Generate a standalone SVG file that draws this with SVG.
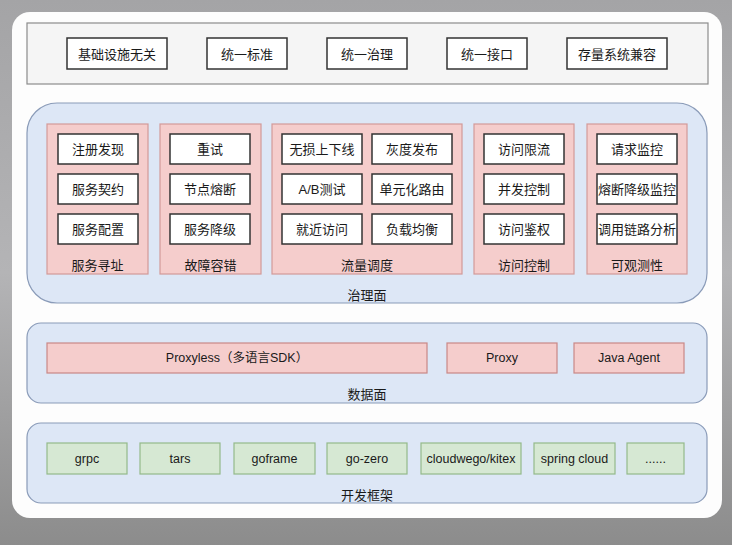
<svg xmlns="http://www.w3.org/2000/svg" width="732" height="545" viewBox="0 0 732 545">
<defs>
<linearGradient id="bg" x1="0" y1="0" x2="0" y2="1">
<stop offset="0" stop-color="#a4a4a6"/>
<stop offset="0.5" stop-color="#b4b4b6"/>
<stop offset="1" stop-color="#8c8c8c"/>
</linearGradient>
<style>
text{font-family:"Liberation Sans","Noto Sans CJK SC",sans-serif;font-size:13px;fill:#1a1a1a;text-anchor:middle;dominant-baseline:central}
.en{font-size:12.5px}
.wb{fill:#ffffff;stroke:#333333;stroke-width:1.5}
.panel{fill:#dde7f6;stroke:#8a9bb8;stroke-width:1.2}
.sec{fill:#f5cdcc;stroke:#d29a98;stroke-width:1.2}
.red{fill:#f5cdcc;stroke:#c98886;stroke-width:1.2}
.grn{fill:#d6e8d3;stroke:#93b98a;stroke-width:1.2}
</style>
</defs>
<rect x="0" y="0" width="732" height="545" fill="url(#bg)"/>
<rect x="12" y="12" width="710" height="506" rx="18" fill="#fdfdfd"/>

<g id="top">
<rect x="27" y="23" width="681" height="61" fill="#f5f5f5" stroke="#8c8c8c" stroke-width="1.2"/>
<g id="t1"><rect class="wb" x="67" y="38" width="100" height="31"/><text x="117" y="54">基础设施无关</text></g>
<g id="t2"><rect class="wb" x="207" y="38" width="80" height="31"/><text x="247" y="54">统一标准</text></g>
<g id="t3"><rect class="wb" x="327" y="38" width="80" height="31"/><text x="367" y="54">统一治理</text></g>
<g id="t4"><rect class="wb" x="447" y="38" width="80" height="31"/><text x="487" y="54">统一接口</text></g>
<g id="t5"><rect class="wb" x="567" y="38" width="100" height="31"/><text x="617" y="54">存量系统兼容</text></g>
</g>

<g id="gov">
<rect class="panel" x="27" y="103" width="680" height="200" rx="30"/>
<text x="367" y="295">治理面</text>
<g id="s1"><rect class="sec" x="47" y="124" width="101" height="150"/><text x="97.5" y="265">服务寻址</text>
<rect class="wb" x="58" y="134" width="80" height="30"/><text x="98" y="149">注册发现</text>
<rect class="wb" x="58" y="174" width="80" height="30"/><text x="98" y="189">服务契约</text>
<rect class="wb" x="58" y="214" width="80" height="30"/><text x="98" y="229">服务配置</text></g>
<g id="s2"><rect class="sec" x="160" y="124" width="101" height="150"/><text x="210.5" y="265">故障容错</text>
<rect class="wb" x="170" y="134" width="80" height="30"/><text x="210" y="149">重试</text>
<rect class="wb" x="170" y="174" width="80" height="30"/><text x="210" y="189">节点熔断</text>
<rect class="wb" x="170" y="214" width="80" height="30"/><text x="210" y="229">服务降级</text></g>
<g id="s3"><rect class="sec" x="272" y="124" width="190" height="150"/><text x="367" y="265">流量调度</text>
<rect class="wb" x="282" y="134" width="80" height="30"/><text x="322" y="149">无损上下线</text>
<rect class="wb" x="282" y="174" width="80" height="30"/><text x="322" y="189">A/B测试</text>
<rect class="wb" x="282" y="214" width="80" height="30"/><text x="322" y="229">就近访问</text>
<rect class="wb" x="372" y="134" width="80" height="30"/><text x="412" y="149">灰度发布</text>
<rect class="wb" x="372" y="174" width="80" height="30"/><text x="412" y="189">单元化路由</text>
<rect class="wb" x="372" y="214" width="80" height="30"/><text x="412" y="229">负载均衡</text></g>
<g id="s4"><rect class="sec" x="474" y="124" width="100" height="150"/><text x="524" y="265">访问控制</text>
<rect class="wb" x="484" y="134" width="80" height="30"/><text x="524" y="149">访问限流</text>
<rect class="wb" x="484" y="174" width="80" height="30"/><text x="524" y="189">并发控制</text>
<rect class="wb" x="484" y="214" width="80" height="30"/><text x="524" y="229">访问鉴权</text></g>
<g id="s5"><rect class="sec" x="587" y="124" width="100" height="150"/><text x="637" y="265">可观测性</text>
<rect class="wb" x="597" y="134" width="80" height="30"/><text x="637" y="149">请求监控</text>
<rect class="wb" x="597" y="174" width="80" height="30"/><text x="637" y="189">熔断降级监控</text>
<rect class="wb" x="597" y="214" width="80" height="30"/><text x="637" y="229">调用链路分析</text></g>
</g>

<g id="data">
<rect class="panel" x="27" y="323" width="680" height="80" rx="14"/>
<text x="367" y="394">数据面</text>
<g id="d1"><rect class="red" x="47" y="343" width="380" height="30"/><text class="en" x="237" y="358">Proxyless（多语言SDK）</text></g>
<g id="d2"><rect class="red" x="447" y="343" width="110" height="30"/><text class="en" x="502" y="358">Proxy</text></g>
<g id="d3"><rect class="red" x="574" y="343" width="110" height="30"/><text class="en" x="629" y="358">Java Agent</text></g>
</g>

<g id="fw">
<rect class="panel" x="27" y="423" width="680" height="80" rx="14"/>
<text x="367" y="495">开发框架</text>
<g id="f1"><rect class="grn" x="47" y="443" width="80" height="31"/><text class="en" x="87" y="459">grpc</text></g>
<g id="f2"><rect class="grn" x="140" y="443" width="80" height="31"/><text class="en" x="180" y="459">tars</text></g>
<g id="f3"><rect class="grn" x="234" y="443" width="81" height="31"/><text class="en" x="274.5" y="459">goframe</text></g>
<g id="f4"><rect class="grn" x="327" y="443" width="80" height="31"/><text class="en" x="367" y="459">go-zero</text></g>
<g id="f5"><rect class="grn" x="421" y="443" width="100" height="31"/><text class="en" x="471" y="459">cloudwego/kitex</text></g>
<g id="f6"><rect class="grn" x="534" y="443" width="81" height="31"/><text class="en" x="574.5" y="459">spring cloud</text></g>
<g id="f7"><rect class="grn" x="627" y="443" width="57" height="31"/><text class="en" x="655.5" y="459">......</text></g>
</g>
<g id="connectors"/>
</svg>
